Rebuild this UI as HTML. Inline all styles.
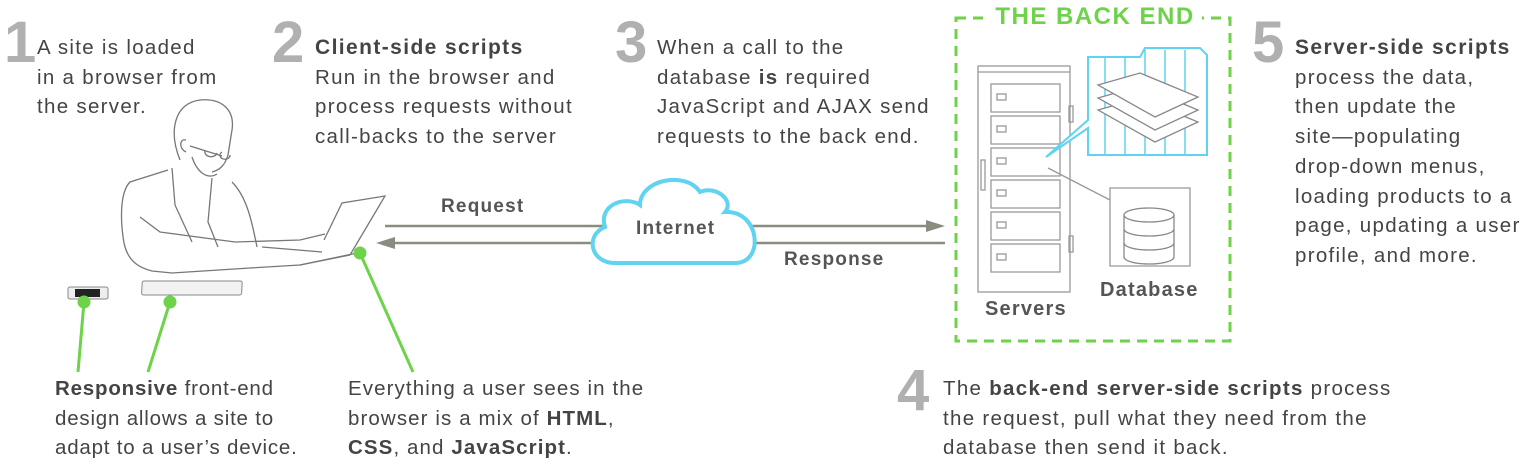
<!DOCTYPE html>
<html><head><meta charset="utf-8"><style>
body{margin:0;width:1533px;height:468px;background:#fff;position:relative;overflow:hidden;font-family:"Liberation Sans",sans-serif;color:#444}
.t{position:absolute;font-size:20.5px;line-height:29.7px;letter-spacing:1.3px;white-space:nowrap}
.n{position:absolute;font-size:58px;font-weight:bold;color:#b0b0b0;line-height:1}
b{color:#444}
.h{font-size:21px;letter-spacing:1.4px}
.l{position:absolute;font-size:19px;font-weight:bold;color:#555;letter-spacing:1.2px}
</style></head><body>
<div class="n" style="left:4px;top:14px">1</div>
<div class="t" style="left:37px;top:33px">A site is loaded<br>in a browser from<br>the server.</div>
<div class="n" style="left:272px;top:14px">2</div>
<div class="t" style="left:315px;top:33px"><b class="h">Client-side scripts</b><br>Run in the browser and<br>process requests without<br>call-backs to the server</div>
<div class="n" style="left:615px;top:14px">3</div>
<div class="t" style="left:657px;top:33px">When a call to the<br>database <b>is</b> required<br>JavaScript and AJAX send<br>requests to the back end.</div>
<div class="n" style="left:1252px;top:14px">5</div>
<div class="t" style="left:1295px;top:33px"><b class="h">Server-side scripts</b><br>process the data,<br>then update the<br>site—populating<br>drop-down menus,<br>loading products to a<br>page, updating a user<br>profile, and more.</div>
<div class="n" style="left:897px;top:362px">4</div>
<div class="t" style="left:943px;top:374px">The <b>back-end server-side scripts</b> process<br>the request, pull what they need from the<br>database then send it back.</div>
<div class="t" style="left:55px;top:374px;letter-spacing:0.8px"><b>Responsive</b> front-end<br>design allows a site to<br>adapt to a user’s device.</div>
<div class="t" style="left:348px;top:374px;letter-spacing:1.1px">Everything a user sees in the<br>browser is a mix of <b>HTML</b>,<br><b>CSS</b>, and <b>JavaScript</b>.</div>

<svg width="1533" height="468" style="position:absolute;left:0;top:0">
<!-- person -->
<g fill="none" stroke="#777" stroke-width="1.3">
<path d="M180 160 C168 130 175 103 200 100 C222 98 235 110 232 130 L228 155 C225 165 220 170 212 172"/>
<path d="M186 140 C180 138 178 148 186 152"/>
<path d="M190 146 L222 156 M205 150 a6 5 0 1 0 12 3 M222 152 a5 4 0 1 0 8 3"/>
<path d="M192 157 C197 172 207 180 217 174"/>
<path d="M168 170 L130 182 C120 192 120 220 124 243 C128 262 140 268 152 271 L172 273 L250 268 L300 265 L350 255"/>
<path d="M172 168 L175 205 L192 242 M212 178 L208 222 L218 247 M232 182 C247 197 252 222 257 247"/>
<path d="M140 217 L160 232 L235 242 L300 240 L325 234 M262 247 L322 252"/>
<path d="M350 255 L385 196 L342 203 L324 240"/>
<path d="M300 265 L362 252"/>
</g>
<!-- phone & tablet -->
<rect x="68" y="287" width="40" height="12" rx="2" fill="#eee" stroke="#888"/>
<rect x="75" y="289" width="25" height="8" fill="#222"/>
<rect x="157" y="281" width="100" height="14" rx="2" fill="#f2f2f2" stroke="#888" transform="skewX(-3)"/>
<!-- green leaders -->
<g stroke="#6ed24a" stroke-width="3" fill="#6ed24a">
<line x1="84" y1="302" x2="78" y2="372"/><circle cx="84" cy="302" r="5"/>
<line x1="170" y1="302" x2="148" y2="372"/><circle cx="170" cy="302" r="5"/>
<line x1="360" y1="253" x2="413" y2="372"/><circle cx="360" cy="253" r="5"/>
</g>
<!-- arrows -->
<g stroke="#8a8c80" stroke-width="2.5" fill="#8a8c80">
<line x1="385" y1="226" x2="930" y2="226"/><path d="M945 226 L926 220 L926 232Z" stroke="none"/>
<line x1="392" y1="243" x2="945" y2="243"/><path d="M376 243 L395 237 L395 249Z" stroke="none"/>
</g>
<!-- cloud -->
<path d="M615 263 C590 263 585 235 605 227 C598 205 625 195 640 205 C640 180 685 170 700 192 C715 185 735 200 725 212 C760 210 765 263 735 263 Z" fill="#fff" stroke="#5fd3f0" stroke-width="4"/>
<!-- backend dashed -->
<rect x="956" y="18" width="274" height="323" fill="none" stroke="#6ed24a" stroke-width="3" stroke-dasharray="10 7"/>
<rect x="990" y="6" width="212" height="26" fill="#fff"/>
<!-- server rack -->
<g fill="none" stroke="#999" stroke-width="1.3">
<rect x="978" y="66" width="92" height="226"/>
<line x1="978" y1="72" x2="1070" y2="72"/>
<rect x="991" y="84" width="69" height="28"/><rect x="991" y="116" width="69" height="28"/>
<rect x="991" y="148" width="69" height="28"/><rect x="991" y="180" width="69" height="28"/>
<rect x="991" y="212" width="69" height="28"/><rect x="991" y="244" width="69" height="28"/>
<rect x="997" y="94" width="9" height="6"/><rect x="997" y="126" width="9" height="6"/><rect x="997" y="158" width="9" height="6"/><rect x="997" y="190" width="9" height="6"/><rect x="997" y="222" width="9" height="6"/><rect x="997" y="254" width="9" height="6"/>
<rect x="981" y="160" width="4" height="30"/><rect x="1069" y="106" width="4" height="16"/><rect x="1069" y="236" width="4" height="16"/>
<path d="M1048 168 L1110 200 L1110 188 L1190 188 L1190 266 L1110 266 L1110 200"/>
</g>
<!-- blue callout -->
<path d="M1046 157 L1088 120 L1088 57 L1140 57 L1145 48 L1200 48 L1207 55 L1207 155 L1088 155 L1088 128 Z" fill="#fff" stroke="#5fd3f0" stroke-width="2"/>
<g stroke="#5fd3f0" stroke-width="1.5"><line x1="1105" y1="57" x2="1105" y2="155"/><line x1="1125" y1="57" x2="1125" y2="155"/><line x1="1145" y1="50" x2="1145" y2="155"/><line x1="1165" y1="50" x2="1165" y2="155"/><line x1="1185" y1="50" x2="1185" y2="155"/></g>
<g fill="#fff" stroke="#888" stroke-width="1.3">
<path d="M1098 110 L1140 98 L1198 122 L1155 142 Z"/>
<path d="M1098 98 L1140 86 L1198 110 L1155 130 Z"/>
<path d="M1098 85 L1140 73 L1198 97 L1155 117 Z"/>
</g>
<!-- database -->
<g fill="#fff" stroke="#888" stroke-width="1.3">
<path d="M1124 215 v42 a25 7 0 0 0 50 0 v-42"/>
<ellipse cx="1149" cy="215" rx="25" ry="7"/>
<path d="M1124 229 a25 7 0 0 0 50 0 M1124 243 a25 7 0 0 0 50 0"/>
</g>
</svg>
<div style="position:absolute;left:960px;top:3px;width:270px;text-align:center;font-size:24px;font-weight:bold;color:#6ed24a;letter-spacing:1.5px">THE BACK END</div>
<div class="l" style="left:441px;top:196px">Request</div>
<div class="l" style="left:636px;top:218px">Internet</div>
<div class="l" style="left:784px;top:249px">Response</div>
<div class="l" style="left:985px;top:298px;font-size:20px">Servers</div>
<div class="l" style="left:1100px;top:279px;font-size:20px">Database</div>
</body></html>
